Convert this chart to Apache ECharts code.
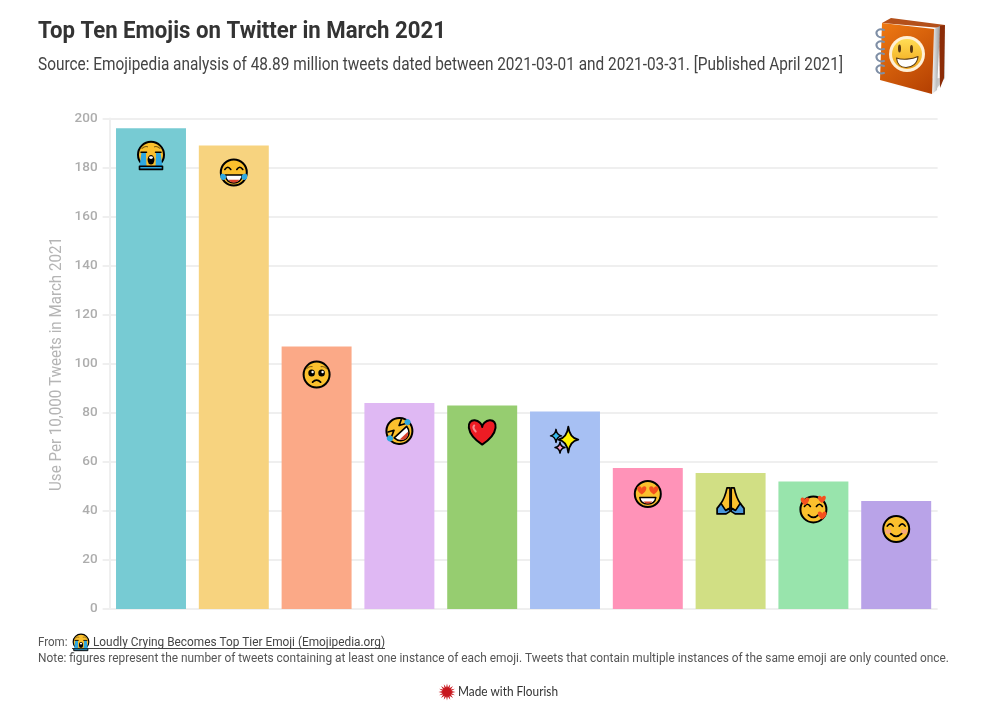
<!DOCTYPE html>
<html>
<head>
<meta charset="utf-8">
<style>html,body{margin:0;padding:0;background:#fff}#chart{width:1008px;height:703px}</style>
<script src="https://cdn.jsdelivr.net/npm/echarts@6/dist/echarts.min.js"></script>
</head>
<body>
<div id="chart"></div>
<script>
const categories = ['sob','joy','pleading','rofl','heart','sparkles','heartEyes','pray','hearts','blush'];
const values = [196, 189, 107, 84, 83, 80.5, 57.5, 55.5, 52, 44];
const barColors = ['#77cbd3','#f7d37f','#fba987','#dfb8f3','#96cd70','#a7c0f3','#ff93b8','#d1df84','#98e4ac','#b9a3e8'];
const yTicks = {min:0, max:200, interval:20};
const titleText = 'Top Ten Emojis on Twitter in March 2021';
const subtitleText = 'Source: Emojipedia analysis of 48.89 million tweets dated between 2021-03-01 and 2021-03-31. [Published April 2021]';
const yAxisText = 'Use Per 10,000 Tweets in March 2021';
const fromText = 'From:';
const linkText = 'Loudly Crying Becomes Top Tier Emoji (Emojipedia.org)';
const noteText = 'Note: figures represent the number of tweets containing at least one instance of each emoji. Tweets that contain multiple instances of the same emoji are only counted once.';
const brandText = 'Made with Flourish';

const FACE='#fbc02d', K='#000', BLUE='#2fa8e0', RED='#ed1c24', HEARTR='#f4511e';
const emojiDrop={sob:27.5,joy:27,pleading:28,rofl:28,heart:26.5,sparkles:28,heartEyes:26,pray:28,hearts:28,blush:28};
const mctx=document.createElement('canvas').getContext('2d');
function fit(t,w,size,weight,family){mctx.font=(weight||'normal')+' '+size+'px '+(family||'Roboto');return w/mctx.measureText(t).width;}
function txt(t,x,y,w,size,fill,weight){
  return {type:'text',x,y,scaleX:fit(t,w,size,weight),silent:true,
    style:{text:t,fontFamily:'Roboto',fontSize:size,fontWeight:weight||'normal',fill,align:'left',verticalAlign:'middle'}};
}
const P=(d,fill,stroke,lw)=>({type:'path',shape:{pathData:d},style:{fill:fill||'none',stroke:stroke||'none',lineWidth:lw==null?1.6:lw,lineJoin:'round',lineCap:'round'}});
const C=(cx,cy,r,fill,stroke,lw)=>({type:'circle',shape:{cx,cy,r},style:{fill:fill||'none',stroke:stroke||'none',lineWidth:lw==null?2:lw}});
const E=(cx,cy,rx,ry,fill,stroke,lw)=>P(`M${cx-rx} ${cy}a${rx} ${ry} 0 1 0 ${2*rx} 0a${rx} ${ry} 0 1 0 ${-2*rx} 0Z`,fill,stroke,lw);
const face=()=>C(0,0,13,FACE,K,2);
function heartD(x,y,s){return `M${x} ${y+.9*s}C${x-1.3*s} ${y+.05*s} ${x-1.15*s} ${y-.95*s} ${x-.55*s} ${y-.9*s}C${x-.25*s} ${y-.88*s} ${x} ${y-.6*s} ${x} ${y-.4*s}C${x} ${y-.6*s} ${x+.25*s} ${y-.88*s} ${x+.55*s} ${y-.9*s}C${x+1.15*s} ${y-.95*s} ${x+1.3*s} ${y+.05*s} ${x} ${y+.9*s}Z`;}
function starD(x,y,a,b){const q=.14;return `M${x} ${y-a}Q${x+b*q} ${y-b*q} ${x+b} ${y}Q${x+b*q} ${y+b*q} ${x} ${y+a}Q${x-b*q} ${y+b*q} ${x-b} ${y}Q${x-b*q} ${y-b*q} ${x} ${y-a}Z`;}
const happyEyes=()=>[P('M-9 -3Q-6 -7.5 -3 -3',null,K),P('M3 -3Q6 -7.5 9 -3',null,K)];
const emoji={
  sob:()=>[
    C(0,-1,13,FACE,K,2),
    P('M-9.5 -3L-5 -3C-5 3 -4.5 8 -4.5 12H-11.5C-11 8 -10.5 3 -9.5 -3Z',BLUE),
    P('M9.5 -3L5 -3C5 3 4.5 8 4.5 12H11.5C11 8 10.5 3 9.5 -3Z',BLUE),
    P('M-11.5 10.5H11.5V13.6H-11.5Z',BLUE,K,1.6),
    P('M-9 -7.5Q-6 -10 -3.5 -9',null,'#7a5a10',1.1),P('M9 -7.5Q6 -10 3.5 -9',null,'#7a5a10',1.1),
    P('M-10 -3.5H-4.5',null,K,1.5),P('M10 -3.5H4.5',null,K,1.5),
    E(0,4,3.4,4.8,K),E(0,1.8,1.9,1.4,'#fff')
  ],
  joy:()=>[
    face(),...happyEyes(),
    P('M-8.5 2.5H8.5C8 8 4 10.5 0 10.5C-4 10.5 -8 8 -8.5 2.5Z','#fff',K,1.6),
    P('M-5.6 7.2H5.6C4 9.5 2 10 0 10C-2 10 -4 9.5 -5.6 7.2Z','#d9412b'),
    P('M-12.7 1.5C-14.5 4 -13.2 8 -9.8 7.4C-7.6 7 -7 3.8 -8.6 2.3C-9.6 1.5 -11.4 .8 -12.7 1.5Z',BLUE),
    P('M12.7 1.5C14.5 4 13.2 8 9.8 7.4C7.6 7 7 3.8 8.6 2.3C9.6 1.5 11.4 .8 12.7 1.5Z',BLUE)
  ],
  pleading:()=>[face(),
    P('M-10 -6Q-7.5 -8.5 -4.5 -8',null,'#8a6512',1.1),P('M10 -6Q7.5 -8.5 4.5 -8',null,'#8a6512',1.1),
    E(-5,-1.5,3.3,3.5,K),E(5,-1.5,3.3,3.5,K),
    C(-4,-2.6,1.2,'#fff'),C(6,-2.6,1.2,'#fff'),
    P('M-4 7.5Q0 3.5 4 7.5',null,K,1.8)],
  rofl:()=>[{type:'group',rotation:.75,children:[
    face(),
    P('M-9 -7L-3.5 -4.2L-9 -1.5',null,K,1.7),P('M9 -7L3.5 -4.2L9 -1.5',null,K,1.7),
    P('M-8.5 1.5H8.5C8 7.5 4 10.3 0 10.3C-4 10.3 -8 7.5 -8.5 1.5Z','#fff',K,1.6),
    P('M-5.6 6.4H5.6C4 9 2 9.8 0 9.8C-2 9.8 -4 9 -5.6 6.4Z','#d9412b'),
    C(-12,-1,3,BLUE),C(12,-1,3,BLUE)
  ]}],
  heart:()=>[P(heartD(0,.5,13.5),RED,K,2),P('M-8 -6.5C-9.5 -5 -8.5 -2.5 -6.5 -.5',null,'#f58a8f',2)],
  sparkles:()=>[
    P(starD(3.3,0,13,10),'#fff200',K,1.8),
    P(starD(-9,-3.7,6.5,5.5),'#35b8ea',K,1.5),
    P(starD(-5,8,5.5,5),'#f39ac4',K,1.5)],
  heartEyes:()=>[face(),
    P(heartD(-6,-3.5,4.6),HEARTR),P(heartD(6,-3.5,4.6),HEARTR),
    P('M-8 3.5H8C7.5 8 4 10 0 10C-4 10 -7.5 8 -8 3.5Z','#fff',K,1.5),
    P('M-4.5 7.5H4.5C3 9.3 1.5 9.5 0 9.5C-1.5 9.5 -3 9.3 -4.5 7.5Z','#d9412b')],
  pray:()=>[
    P('M-.6 -13H-3.6C-5 -6 -7 -1 -10 3L-5.5 10L-.6 7Z',FACE,K,1.7),
    P('M.6 -13H3.6C5 -6 7 -1 10 3L5.5 10L.6 7Z',FACE,K,1.7),
    P('M-9.6 2.5L-13.5 7.5V13H-4.5L-.6 10.5V7.5L-5 9.5Z','#4a98dc',K,1.7),
    P('M9.6 2.5L13.5 7.5V13H4.5L.6 10.5V7.5L5 9.5Z','#4a98dc',K,1.7)],
  hearts:()=>[face(),...happyEyes(),
    P('M-5 5.5Q0 10.5 5 5.5',null,K,1.7),
    P(heartD(-8.5,-8,4.3),HEARTR),P(heartD(8.5,-10,4),HEARTR),P(heartD(8.8,6,4.4),HEARTR)],
  blush:()=>[face(),...happyEyes(),
    E(-8,2.5,3,2.3,'#f7a77a'),E(8,2.5,3,2.3,'#f7a77a'),
    P('M-5.5 4.5Q0 10 5.5 4.5',null,K,1.7)]
};

function bookLogo(){
  const grad=(x,y,x2,y2,a,b)=>({type:'linear',x,y,x2,y2,colorStops:[{offset:0,color:a},{offset:1,color:b}]});
  const rings=[33,45,57,69].map(y=>P(`M884 ${y-3}C879 ${y-5} 875 ${y-2} 877 ${y+2}C878 ${y+4} 881 ${y+5} 884 ${y+4}`,null,'#7f8fa6',2));
  return [
    {type:'polygon',shape:{points:[[884,80],[934,92],[945,78],[945,30],[942,30],[942,78]]},style:{fill:'rgba(0,0,0,.18)',shadowBlur:5,shadowColor:'rgba(0,0,0,.3)'}},
    {type:'polygon',shape:{points:[[882,23],[891,18],[945,25],[941,28]]},style:{fill:'#b4501a'}},
    {type:'polygon',shape:{points:[[939,26],[945,25],[944,78],[940,88]]},style:{fill:'#8c2c07'}},
    {type:'polygon',shape:{points:[[934,29],[940,26],[937,90],[932,94]]},style:{fill:grad(0,0,1,0,'#f4f4f4','#9a9a9a')}},
    {type:'polygon',shape:{points:[[882,23],[934,29],[932,94],[880,80]]},style:{fill:grad(0,0,1,1,'#f07a12','#b23e02')}},
    ...rings,
    C(907,54,18,'#fff0d6','none',0),
    {type:'circle',shape:{cx:907,cy:54,r:15},style:{fill:grad(0,0,0,1,'#ffdd55','#f0a518')}},
    E(899.5,48.5,1.5,4,'#5a3a12'),E(911.5,49,1.5,4,'#5a3a12'),
    P('M896.5 58C902 60 912 59.5 918 56.5C917.5 63.5 912 67.5 906 67.5C900.5 67.5 897 63.5 896.5 58Z','#fff','#5a3a12',1.1)
  ];
}
function burst(cx,cy,r1,r2,n){let d='';for(let k=0;k<n*2;k++){const a=k*Math.PI/n,r=k%2?r2:r1;d+=(k?'L':'M')+(cx+r*Math.cos(a)).toFixed(2)+' '+(cy+r*Math.sin(a)).toFixed(2);}return d+'Z';}

const chart=echarts.init(document.getElementById('chart'),null,{renderer:'canvas'});
chart.setOption({
  animation:false,
  backgroundColor:'#fff',
  grid:{left:109.6,top:118.5,width:828,height:490.5,containLabel:false},
  xAxis:{type:'category',data:categories,axisLabel:{show:false},axisTick:{show:false},axisLine:{show:false}},
  yAxis:{type:'value',min:yTicks.min,max:yTicks.max,interval:yTicks.interval,
    axisLine:{show:true,lineStyle:{color:'#efefef',width:2}},
    axisTick:{show:true,length:7,lineStyle:{color:'#efefef',width:2}},
    splitLine:{show:true,lineStyle:{color:'#efefef',width:2}},
    axisLabel:{margin:12,color:'#adadad',fontFamily:'Roboto',fontSize:13.5,fontWeight:500,padding:[1,0,0,0]}},
  series:[
    {type:'bar',barCategoryGap:'15.5%',silent:true,z:2,
     data:values.map((v,i)=>({value:v,itemStyle:{color:barColors[i]}}))},
    {type:'custom',silent:true,z:5,clip:false,
     data:values.map((v,i)=>[i,v]),encode:{x:0,y:1},
     renderItem:(params,api)=>{
       const i=api.value(0),pt=api.coord([i,api.value(1)]),k=categories[i];
       return {type:'group',x:pt[0],y:pt[1]+emojiDrop[k],children:emoji[k]()};
     }},
    {type:'custom',coordinateSystem:'none',silent:true,z:5,data:[[0]],
     renderItem:()=>({type:'group',children:[
       {type:'group',children:bookLogo()},
       {type:'group',x:81,y:642.5,scaleX:.6,scaleY:.6,children:emoji.sob()},
       P(burst(447,692,8.5,4.5,16),'#c8171e')
     ]})}
  ],
  graphic:{elements:[
    txt(titleText,38,31.5,408,24,'#333333','bold'),
    txt(subtitleText,38,65.5,805,17.5,'#444444'),
    {type:'text',x:57,y:364,rotation:Math.PI/2,scaleX:fit(yAxisText,254,17),silent:true,
      style:{text:yAxisText,fontFamily:'Roboto',fontSize:17,fill:'#b5b5b5',align:'center',verticalAlign:'middle'}},
    txt(fromText,38,643,29.5,12.5,'#555555'),
    txt(linkText,93,643,292,12.5,'#444444'),
    {type:'line',shape:{x1:72,y1:648.5,x2:385,y2:648.5},silent:true,style:{stroke:'#444444',lineWidth:1}},
    txt(noteText,38,659,911,12.5,'#555555'),
    {type:'text',x:458,y:692,silent:true,scaleX:fit(brandText,100,13,'normal','Lato'),
      style:{text:brandText,fontFamily:'Lato',fontSize:13,fill:'#333333',align:'left',verticalAlign:'middle'}}
  ]}
});
</script>
</body>
</html>
